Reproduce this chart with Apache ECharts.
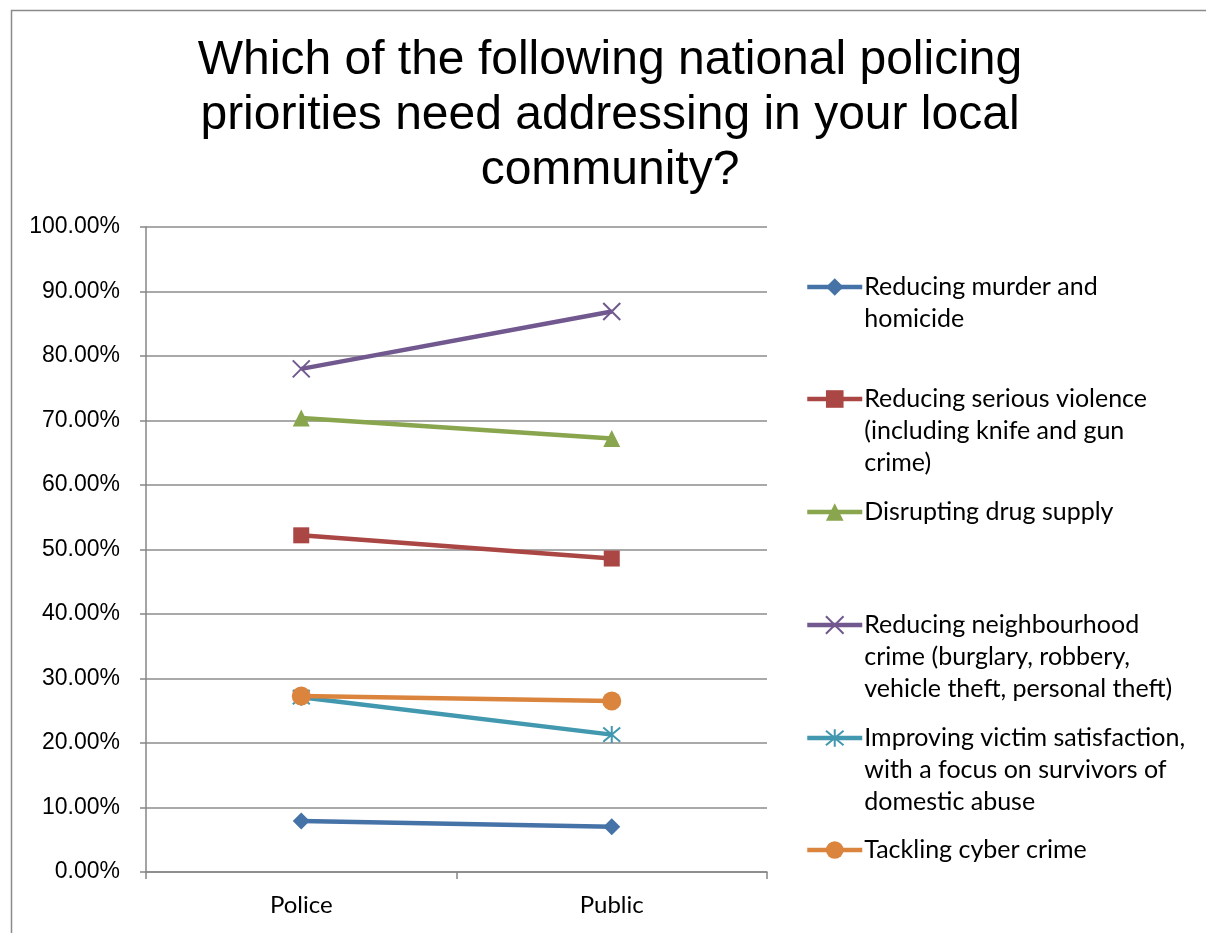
<!DOCTYPE html>
<html><head><meta charset="utf-8">
<script src="https://cdn.jsdelivr.net/npm/echarts@6/dist/echarts.min.js"></script>
<style>html,body{margin:0;padding:0;background:#fff}#c{width:1206px;height:933px}</style>
</head><body><div id="c"></div>
<script>
const categories = ['Police', 'Public'];
const seriesNames = [
  'Reducing murder and\nhomicide',
  'Reducing serious violence\n(including knife and gun\ncrime)',
  'Disrupting drug supply',
  'Reducing neighbourhood\ncrime (burglary, robbery,\nvehicle theft, personal theft)',
  'Improving victim satisfaction,\nwith a focus on survivors of\ndomestic abuse',
  'Tackling cyber crime'
];
const murder = [7.9, 7.0];
const violence = [52.2, 48.6];
const drugs = [70.4, 67.2];
const neighbourhood = [78.0, 86.9];
const victim = [27.1, 21.3];
const cyber = [27.3, 26.5];
const yTicks = [0, 100, 10];

const values = [murder, violence, drugs, neighbourhood, victim, cyber];
const colors = ['#4572A7', '#AA4643', '#89A54E', '#71588F', '#4198AF', '#DB843D'];
const symbols = ['diamond', 'rect', 'triangle', 'path://M0,0L10,10M10,0L0,10', 'path://M0,0L10,10M10,0L0,10M5,-1L5,11', 'circle'];
const symSizes = [17, 16, 17, 17, 17, 19];
const legendCenters = [287, 399, 512, 625, 738, 850];
const font = 'Lato, "Open Sans", sans-serif';
const arial = '"Liberation Sans", Arial, sans-serif';

const chart = echarts.init(document.getElementById('c'));
const series = values.map((v, i) => ({
  name: seriesNames[i], type: 'line', data: v,
  symbol: symbols[i], symbolSize: symSizes[i], showAllSymbol: true,
  lineStyle: { color: colors[i], width: 4.5 },
  itemStyle: { color: colors[i], borderColor: colors[i], borderWidth: (i === 3 || i === 4) ? 2 : 0 },
  emphasis: { disabled: true }, animation: false, z: 2 + i
}));
const legends = seriesNames.map((n, i) => {
  const lines = n.split('\n').length;
  return {
    data: [n], orient: 'vertical', left: 805, top: legendCenters[i] - 32 * lines + 16,
    padding: 0, itemWidth: 55, itemHeight: 22, selectedMode: false,
    lineStyle: { width: 4.5 },
    formatter: name => '\n'.repeat(lines - 1) + name,
    textStyle: { fontFamily: font, fontSize: 25, color: '#000', lineHeight: 32, padding: [0, 0, 0, -3] }
  };
});
chart.setOption({
  animation: false,
  color: colors,
  title: {
    text: 'Which of the following national policing\npriorities need addressing in your local\ncommunity?',
    left: 605, textAlign: 'center', top: 28,
    textStyle: { fontFamily: arial, fontSize: 48, fontWeight: 'normal', color: '#000', lineHeight: 55 }
  },
  graphic: [{ type: 'rect', left: 9, top: 8, shape: { width: 1400, height: 1100 }, style: { fill: 'none', stroke: '#8a8a8a', lineWidth: 1.5 }, z: -1 }],
  legend: legends,
  grid: { left: 146, right: 439, top: 227, bottom: 61 },
  xAxis: {
    type: 'category', data: categories, boundaryGap: true,
    axisLine: { lineStyle: { color: '#868686', width: 1.5 } },
    axisTick: { show: true, length: 7, lineStyle: { color: '#868686', width: 1.5 } },
    axisLabel: { fontFamily: font, fontSize: 24, color: '#000', margin: 21 }
  },
  yAxis: {
    type: 'value', min: yTicks[0], max: yTicks[1], interval: yTicks[2],
    axisLine: { show: true, lineStyle: { color: '#868686', width: 1.5 } },
    axisTick: { show: true, length: 6, lineStyle: { color: '#868686', width: 1.5 } },
    splitLine: { lineStyle: { color: '#8c8c8c', width: 1.5 } },
    axisLabel: { fontFamily: arial, fontSize: 23, color: '#000', margin: 26, formatter: v => v.toFixed(2) + '%' }
  },
  series: series
});
</script></body></html>
